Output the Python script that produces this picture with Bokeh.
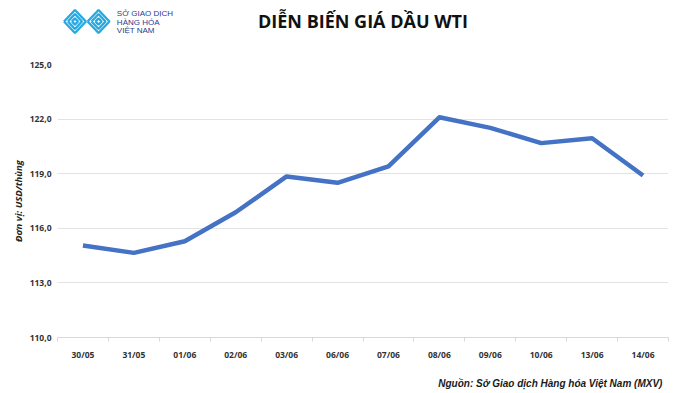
from bokeh.plotting import figure
from bokeh.layouts import column
from bokeh.models import Range1d, FixedTicker
from bokeh.core.properties import value
from bokeh.embed import file_html
from bokeh.resources import INLINE

# ---- data ----
dates = ["30/05", "31/05", "01/06", "02/06", "03/06", "06/06",
         "07/06", "08/06", "09/06", "10/06", "13/06", "14/06"]
prices = [115.05, 114.65, 115.29, 116.88, 118.85, 118.50,
          119.40, 122.10, 121.52, 120.68, 120.95, 118.90]
y_ticks = [110, 113, 116, 119, 122, 125]
y_tick_labels = ["110,0", "113,0", "116,0", "119,0", "122,0", "125,0"]

title_text = "DIỄN BIẾN GIÁ DẦU WTI"
y_label = "Đơn vị: USD/thùng"
source_text = "Nguồn: Sở Giao dịch Hàng hóa Việt Nam (MXV)"
logo_lines = ["SỞ GIAO DỊCH", "HÀNG HÓA", "VIỆT NAM"]

# ---- layout (pixels) ----
W = 700
HEAD_H = 56
MAIN_H = 309
FOOT_H = 28
L, R = 57, 668
FRAME_TOP, FRAME_BOTTOM = 64, 337


def blank(h):
    f = figure(width=W, height=h, output_backend="svg", toolbar_location=None,
               x_range=Range1d(0, W), y_range=Range1d(h, 0),
               x_axis_location=None, y_axis_location=None,
               min_border=0, min_border_left=0, min_border_right=0,
               min_border_top=0, min_border_bottom=0)
    f.outline_line_color = None
    f.xgrid.visible = False
    f.ygrid.visible = False
    f.background_fill_color = "white"
    f.border_fill_color = "white"
    return f


# ---- header ----
head = blank(HEAD_H)
head.text(x=[350], y=[20], text=[title_text], text_align="center",
          text_baseline="middle", text_font=value("Open Sans"),
          text_font_style="bold", text_font_size="18px", text_color="#111111")
head.text(x=[68] * 3, y=[12.7, 21.5, 30.3], text=logo_lines, text_align="left",
          text_baseline="middle", text_font=value("Liberation Sans"),
          text_font_size="8px", text_color="#2b3a8c")
xs, ys = [], []
for cx in (20, 47):
    for hw, hh in ((12.5, 11.5), (8, 7.5), (3.5, 3.2)):
        xs.append([cx - hw, cx, cx + hw, cx, cx - hw])
        ys.append([21, 21 - hh, 21, 21 + hh, 21])
head.multi_line(xs=xs, ys=ys, line_color="#27a9e1", line_width=2.4)

# ---- main chart ----
idx = list(range(len(dates)))
p = figure(width=W, height=MAIN_H, output_backend="svg", toolbar_location=None,
           x_range=Range1d(-0.5, len(dates) - 0.5),
           y_range=Range1d(y_ticks[0], y_ticks[-1]),
           min_border_left=L, min_border_right=W - R,
           min_border_top=FRAME_TOP - HEAD_H,
           min_border_bottom=HEAD_H + MAIN_H - FRAME_BOTTOM)
p.outline_line_color = None
p.background_fill_color = "white"
p.border_fill_color = "white"

p.line(idx, prices, line_color="#4472c4", line_width=4.5, line_join="round")

xa = p.xaxis[0]
xa.ticker = FixedTicker(ticks=idx, minor_ticks=[i - 0.5 for i in range(len(dates) + 1)])
xa.major_label_overrides = {i: d for i, d in zip(idx, dates)}
xa.axis_line_color = "#d9d9d9"
xa.major_tick_line_color = None
xa.major_tick_out = 0
xa.minor_tick_line_color = "#d9d9d9"
xa.minor_tick_out = 4
xa.minor_tick_in = 0
xa.major_label_standoff = 7
xa.major_label_text_font = "Open Sans"
xa.major_label_text_font_style = "bold"
xa.major_label_text_font_size = "8.5px"
xa.major_label_text_color = "#333333"

ya = p.yaxis[0]
ya.ticker = FixedTicker(ticks=y_ticks)
ya.major_label_overrides = {t: s for t, s in zip(y_ticks, y_tick_labels)}
ya.axis_line_color = None
ya.major_tick_line_color = None
ya.minor_tick_line_color = None
ya.major_tick_out = 0
ya.major_label_standoff = 6
ya.major_label_text_font = "Open Sans"
ya.major_label_text_font_style = "bold"
ya.major_label_text_font_size = "8.5px"
ya.major_label_text_color = "#333333"
ya.axis_label = y_label
ya.axis_label_text_font = "Open Sans"
ya.axis_label_text_font_style = "bold italic"
ya.axis_label_text_font_size = "9.5px"
ya.axis_label_text_color = "#222222"
ya.axis_label_standoff = 2

p.xgrid.grid_line_color = None
p.ygrid.grid_line_color = "#e3e3e3"
p.ygrid.grid_line_width = 1

# ---- footer ----
foot = blank(FOOT_H)
foot.text(x=[693], y=[18], text=[source_text], text_align="right",
          text_baseline="middle", text_font=value("Liberation Sans"),
          text_font_style="bold italic", text_font_size="10px", text_color="#1a1a1a")

layout = column(head, p, foot, spacing=0)
open("out.html", "w").write(file_html(layout, INLINE))
